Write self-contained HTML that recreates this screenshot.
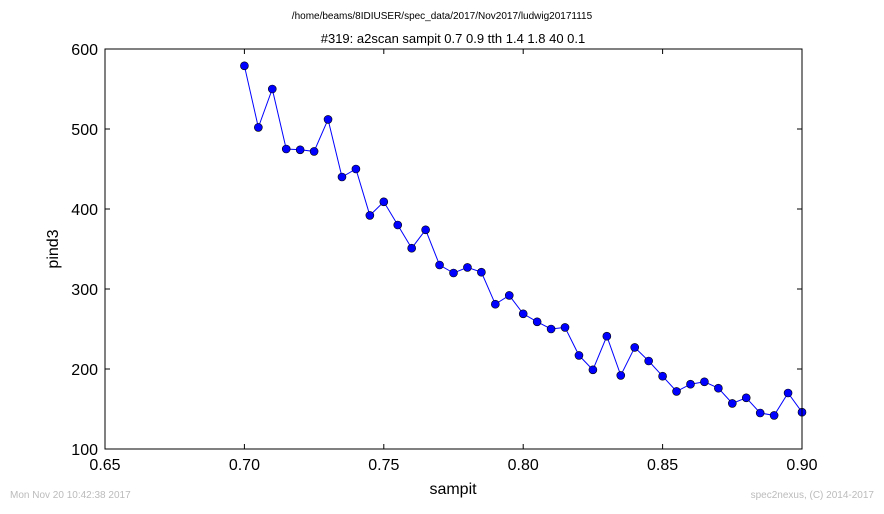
<!DOCTYPE html>
<html><head><meta charset="utf-8"><style>
body{margin:0;background:#fff;font-family:"Liberation Sans","DejaVu Sans",sans-serif;}
svg text{font-family:"Liberation Sans","DejaVu Sans",sans-serif;}
</style></head><body>
<svg id="chart" width="884" height="509" xmlns="http://www.w3.org/2000/svg">
<rect width="884" height="509" fill="#fff"/>
<text x="442" y="19" font-size="10" text-anchor="middle">/home/beams/8IDIUSER/spec_data/2017/Nov2017/ludwig20171115</text>
<text x="453" y="43" font-size="13" text-anchor="middle">#319: a2scan  sampit 0.7 0.9  tth 1.4 1.8  40 0.1</text>
<g id="axes"></g>
<g id="series"></g>
<rect x="105" y="49" width="697" height="400" fill="none" stroke="#000" stroke-width="1"/>
<text x="453" y="494" font-size="16" text-anchor="middle">sampit</text>
<text x="58" y="249" font-size="16" text-anchor="middle" transform="rotate(-90 58 249)">pind3</text>
<text x="10" y="498" font-size="10" fill="#bbb">Mon Nov 20 10:42:38 2017</text>
<text x="874" y="498" font-size="10" fill="#bbb" text-anchor="end">spec2nexus, (C) 2014-2017</text>
</svg>
<script>
const xValues = [0.700,0.705,0.710,0.715,0.720,0.725,0.730,0.735,0.740,0.745,0.750,0.755,0.760,0.765,0.770,0.775,0.780,0.785,0.790,0.795,0.800,0.805,0.810,0.815,0.820,0.825,0.830,0.835,0.840,0.845,0.850,0.855,0.860,0.865,0.870,0.875,0.880,0.885,0.890,0.895,0.900];
const yValues = [579,502,550,475,474,472,512,440,450,392,409,380,351,374,330,320,327,321,281,292,269,259,250,252,217,199,241,192,227,210,191,172,181,184,176,157,164,145,142,170,146];
const xTicks = [0.65,0.70,0.75,0.80,0.85,0.90];
const yTicks = [100,200,300,400,500,600];
const NS="http://www.w3.org/2000/svg";
const L=105,R=802,T=49,B=449;
const sx=v=>L+(v-0.65)/(0.90-0.65)*(R-L);
const sy=v=>B-(v-100)/(600-100)*(B-T);
const axes=document.getElementById('axes'), ser=document.getElementById('series');
function mk(t,a,p){const e=document.createElementNS(NS,t);for(const k in a)e.setAttribute(k,a[k]);p.appendChild(e);return e;}
xTicks.forEach(v=>{const x=sx(v);
 mk('line',{x1:x,x2:x,y1:B,y2:B-5,stroke:'#000'},axes);
 mk('line',{x1:x,x2:x,y1:T,y2:T+5,stroke:'#000'},axes);
 const t=mk('text',{x:x,y:B+21,'font-size':16,'text-anchor':'middle'},axes);t.textContent=v.toFixed(2);
 
 });
yTicks.forEach(v=>{const y=sy(v);
 mk('line',{x1:L,x2:L+5,y1:y,y2:y,stroke:'#000'},axes);
 mk('line',{x1:R,x2:R-5,y1:y,y2:y,stroke:'#000'},axes);
 const t=mk('text',{x:L-7,y:y+6,'font-size':16,'text-anchor':'end'},axes);t.textContent=v;
 
 });
const pts=xValues.map((x,i)=>sx(x)+','+sy(yValues[i])).join(' ');
const line=mk('polyline',{points:pts,fill:'none',stroke:'#0000ff','stroke-width':1},ser);


xValues.forEach((x,i)=>{const c=mk('circle',{cx:sx(x),cy:sy(yValues[i]),r:4,fill:'#0000ff',stroke:'#000','stroke-width':0.6},ser);
 
 });
</script>
</body></html>
